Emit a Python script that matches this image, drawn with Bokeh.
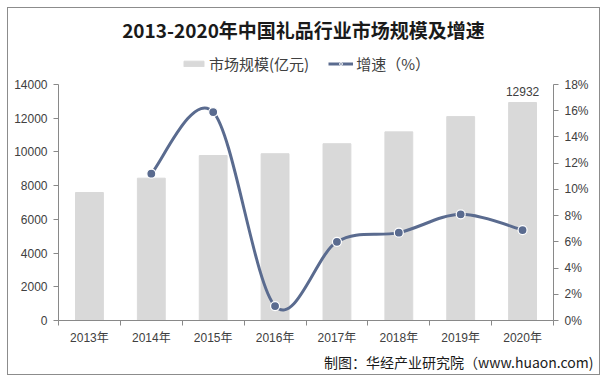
from bokeh.plotting import figure
from bokeh.layouts import column
from bokeh.models import (Range1d, LinearAxis, FixedTicker, PrintfTickFormatter,
                          Legend, LegendItem, Label, Title, ColumnDataSource)
from bokeh.core.properties import value
from bokeh.embed import file_html
from bokeh.resources import INLINE

years = ["2013年", "2014年", "2015年", "2016年", "2017年", "2018年", "2019年", "2020年"]
market_size = [7593, 8443, 9785, 9893, 10487, 11190, 12097, 12932]
growth_years = ["2014年", "2015年", "2016年", "2017年", "2018年", "2019年", "2020年"]
growth = [11.2, 15.9, 1.1, 6.0, 6.7, 8.1, 6.9]
left_ticks = [0, 2000, 4000, 6000, 8000, 10000, 12000, 14000]
right_ticks = [0, 2, 4, 6, 8, 10, 12, 14, 16, 18]

FONT = "'Liberation Sans', 'Noto Sans CJK SC', sans-serif"
CJK = "'Noto Sans CJK SC', sans-serif"
AX = "#898989"
TXT = "#404040"
LINE = "#5A6B8F"
BAR = "#D9D9D9"
W = 591
ML, MR = 50, 46

xs = list(range(len(years)))
gx = [years.index(y) for y in growth_years]

# ---- main chart ----
p = figure(width=W, height=298, x_range=Range1d(-0.5, len(years) - 0.5),
           y_range=Range1d(0, 14000), output_backend="svg", toolbar_location=None,
           min_border_left=ML, min_border_right=MR, min_border_top=8, min_border_bottom=53)
p.extra_y_ranges = {"pct": Range1d(0, 18)}
p.xgrid.visible = False
p.ygrid.visible = False
p.outline_line_color = None
p.background_fill_color = "white"
p.border_fill_color = "white"

p.vbar(x=xs, top=market_size, width=0.45, color=BAR)

# smoothed line (Catmull-Rom -> cubic Bezier, in data space)
pts = list(zip(gx, growth))
x0, y0, x1, y1, cx0, cy0, cx1, cy1 = [], [], [], [], [], [], [], []
n = len(pts)
for i in range(n - 1):
    pm = pts[i - 1] if i > 0 else pts[i]
    pa = pts[i]
    pb = pts[i + 1]
    pn = pts[i + 2] if i + 2 < n else pts[i + 1]
    x0.append(pa[0]); y0.append(pa[1]); x1.append(pb[0]); y1.append(pb[1])
    cx0.append(pa[0] + (pb[0] - pm[0]) / 6); cy0.append(pa[1] + (pb[1] - pm[1]) / 6)
    cx1.append(pb[0] - (pn[0] - pa[0]) / 6); cy1.append(pb[1] - (pn[1] - pa[1]) / 6)
p.bezier(x0=x0, y0=y0, x1=x1, y1=y1, cx0=cx0, cy0=cy0, cx1=cx1, cy1=cy1,
         line_color=LINE, line_width=3, y_range_name="pct")
p.scatter(x=gx, y=growth, size=9, fill_color=LINE, line_color="white",
          line_width=1.2, y_range_name="pct")

src = ColumnDataSource(dict(x=[xs[-1]], y=[market_size[-1]], t=[str(market_size[-1])]))
p.text(x="x", y="y", text="t", source=src, text_align="center", text_baseline="bottom",
       y_offset=-7, text_font=value("Liberation Sans"), text_font_size="12px", text_color=TXT)

p.xaxis.ticker = FixedTicker(ticks=xs, minor_ticks=[i - 0.5 for i in range(len(years) + 1)])
p.xaxis.major_label_overrides = {i: y for i, y in enumerate(years)}
p.xaxis.major_tick_line_color = None
p.xaxis.major_tick_out = 0
p.xaxis.major_tick_in = 0
p.xaxis.minor_tick_line_color = AX
p.xaxis.minor_tick_out = 5
p.xaxis.minor_tick_in = 0
p.xaxis.axis_line_color = AX
p.xaxis.major_label_text_font = FONT
p.xaxis.major_label_text_font_size = "12px"
p.xaxis.major_label_text_color = TXT
p.xaxis.major_label_standoff = 5

p.yaxis.ticker = FixedTicker(ticks=left_ticks)
p.yaxis.formatter = PrintfTickFormatter(format="%d")
p.yaxis.axis_line_color = AX
p.yaxis.major_tick_line_color = AX
p.yaxis.major_tick_out = 5
p.yaxis.major_tick_in = 0
p.yaxis.minor_tick_line_color = None
p.yaxis.major_label_text_font = FONT
p.yaxis.major_label_text_font_size = "12px"
p.yaxis.major_label_text_color = TXT
p.yaxis.major_label_standoff = 6

ra = LinearAxis(y_range_name="pct", ticker=FixedTicker(ticks=right_ticks),
                formatter=PrintfTickFormatter(format="%d%%"))
ra.axis_line_color = AX
ra.major_tick_line_color = AX
ra.major_tick_out = 5
ra.major_tick_in = 0
ra.minor_tick_line_color = None
ra.major_label_text_font = FONT
ra.major_label_text_font_size = "12px"
ra.major_label_text_color = TXT
ra.major_label_standoff = 6
p.add_layout(ra, "right")

p.add_layout(Title(text="制图：华经产业研究院（www.huaon.com)", align="right", offset=-40,
                   text_font=CJK, text_font_size="14px", text_font_style="normal",
                   text_color="#1a1a1a", standoff=5), "below")

# ---- header: title + legend (frame aligned with main frame) ----
head = figure(width=W, height=68, x_range=Range1d(100, 101), y_range=Range1d(100, 101),
              x_axis_type=None, y_axis_type=None, output_backend="svg",
              toolbar_location=None, min_border_left=ML, min_border_right=MR,
              min_border_top=0, min_border_bottom=0)
head.xgrid.visible = False
head.ygrid.visible = False
head.outline_line_color = None
head.border_fill_color = "white"
head.background_fill_color = "white"
# legend proxies (same data, hidden)
lb = head.vbar(x=xs, top=market_size, width=0.45, color=BAR, visible=False)
ll = head.line(x=gx, y=growth, line_color=LINE, line_width=3, visible=False)
lc = head.scatter(x=gx, y=growth, size=7, fill_color=LINE, line_color="white",
                  line_width=1, visible=False)
head.add_layout(Label(x=245, y=47, x_units="screen", y_units="screen",
                      text="2013-2020年中国礼品行业市场规模及增速", text_align="center",
                      text_baseline="middle", text_font=CJK, text_font_size="19px",
                      text_font_style="bold", text_color="#1a1a1a"))
legend = Legend(items=[LegendItem(label="市场规模(亿元)", renderers=[lb]),
                       LegendItem(label="增速（%）", renderers=[ll, lc])],
                orientation="horizontal", location=(123, 2),
                glyph_width=25, glyph_height=7, label_standoff=3, spacing=19,
                padding=2, margin=0, border_line_color=None, background_fill_alpha=0,
                inactive_fill_alpha=0,
                label_text_font=CJK, label_text_font_size="15px", label_text_color=TXT)
head.add_layout(legend)

layout = column(head, p, spacing=0)
layout.margin = (8, 8, 8, 8)
layout.styles = {"outline": "1px solid #8c8c8c", "outline-offset": "0px"}

open("out.html", "w").write(file_html(layout, INLINE))
